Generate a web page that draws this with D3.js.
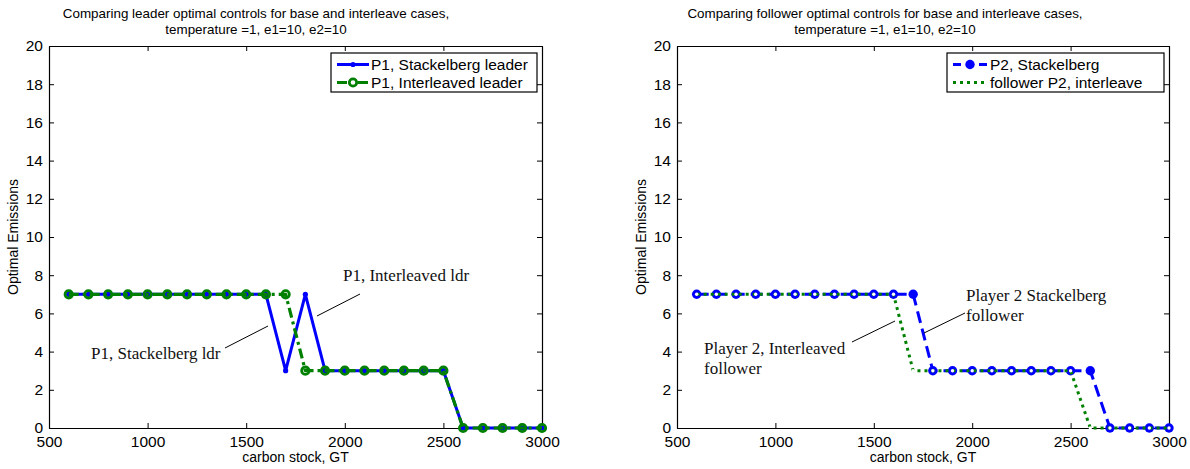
<!DOCTYPE html>
<html>
<head>
<meta charset="utf-8">
<script src="https://cdn.jsdelivr.net/npm/d3@7/dist/d3.min.js"></script>
<style>
  html, body { margin: 0; padding: 0; background: #fff; }
  svg { display: block; }
</style>
</head>
<body>
<svg id="fig" width="1190" height="469"></svg>
<script>
// Carbon stock grid (GT)
const stock = [600, 700, 800, 900, 1000, 1100, 1200, 1300, 1400, 1500, 1600, 1700, 1800,
               1900, 2000, 2100, 2200, 2300, 2400, 2500, 2600, 2700, 2800, 2900, 3000];

// Leader optimal emissions
const leaderStackelberg = [7, 7, 7, 7, 7, 7, 7, 7, 7, 7, 7, 3, 7, 3, 3, 3, 3, 3, 3, 3, 0, 0, 0, 0, 0];
const leaderInterleaved = [7, 7, 7, 7, 7, 7, 7, 7, 7, 7, 7, 7, 3, 3, 3, 3, 3, 3, 3, 3, 0, 0, 0, 0, 0];

// Follower optimal emissions
const followerStackelberg = [7, 7, 7, 7, 7, 7, 7, 7, 7, 7, 7, 7, 3, 3, 3, 3, 3, 3, 3, 3, 3, 0, 0, 0, 0];
const followerInterleaved = [7, 7, 7, 7, 7, 7, 7, 7, 7, 7, 7, 3, 3, 3, 3, 3, 3, 3, 3, 3, 0, 0, 0, 0, 0];

// Axis ticks
const xTicks = [500, 1000, 1500, 2000, 2500, 3000];
const yTicks = [0, 2, 4, 6, 8, 10, 12, 14, 16, 18, 20];

const titlesLeft = ["Comparing leader optimal controls for base and interleave cases,",
                    "temperature =1, e1=10, e2=10"];
const titlesRight = ["Comparing follower optimal controls for base and interleave cases,",
                     "temperature =1, e1=10, e2=10"];

const SANS = "'Liberation Sans', Arial, Helvetica, sans-serif";
const SERIF = "'Liberation Serif', 'Times New Roman', serif";
const BLUE = "#0000ff";
const GREEN = "#008000";

const svg = d3.select("#fig");

function makePanel(opts) {
  const { left, right, top, bottom, titleCx } = opts;
  const x = d3.scaleLinear().domain([500, 3000]).range([left, right]);
  const y = d3.scaleLinear().domain([0, 20]).range([bottom, top]);
  const g = svg.append("g");

  // Title
  const t = g.append("text")
    .attr("x", titleCx).attr("text-anchor", "middle")
    .style("font-family", SANS).style("font-size", "13.4px").attr("fill", "#000");
  opts.titles.forEach((s, i) => t.append("tspan").attr("x", titleCx).attr("y", 18 + i * 15.5).text(s));

  // Axes with inward ticks (bottom/left labelled, top/right mirrored)
  const tickLen = 5;
  const axB = d3.axisBottom(x).tickValues(xTicks).tickSizeInner(-tickLen).tickSizeOuter(0)
    .tickPadding(8).tickFormat(d3.format("d"));
  const axT = d3.axisTop(x).tickValues(xTicks).tickSizeInner(-tickLen).tickSizeOuter(0).tickFormat("");
  const axL = d3.axisLeft(y).tickValues(yTicks).tickSizeInner(-tickLen).tickSizeOuter(0).tickPadding(6);
  const axR = d3.axisRight(y).tickValues(yTicks).tickSizeInner(-tickLen).tickSizeOuter(0).tickFormat("");

  const styleAxis = sel => {
    sel.select(".domain").attr("stroke", "#000").attr("stroke-width", 1.2);
    sel.selectAll(".tick line").attr("stroke", "#000").attr("stroke-width", 1);
    sel.selectAll(".tick text").attr("fill", "#000")
      .style("font-family", SANS).style("font-size", "15.5px");
  };
  g.append("g").attr("transform", `translate(0,${bottom})`).call(axB).call(styleAxis);
  g.append("g").attr("transform", `translate(0,${top})`).call(axT).call(styleAxis);
  g.append("g").attr("transform", `translate(${left},0)`).call(axL).call(styleAxis);
  g.append("g").attr("transform", `translate(${right},0)`).call(axR).call(styleAxis);

  // Axis labels
  g.append("text").attr("x", (left + right) / 2).attr("y", 462).attr("text-anchor", "middle")
    .style("font-family", SANS).style("font-size", "14px").text("carbon stock, GT");
  g.append("text").attr("transform", `translate(${left - 31},${(top + bottom) / 2}) rotate(-90)`)
    .attr("text-anchor", "middle")
    .style("font-family", SANS).style("font-size", "14px").text("Optimal Emissions");

  return { g, x, y };
}

function drawSeries(p, values, style) {
  const pts = stock.map((s, i) => [s, values[i]]);
  const line = d3.line().x(d => p.x(d[0])).y(d => p.y(d[1]));
  p.g.append("path").datum(pts).attr("d", line).attr("fill", "none")
    .attr("stroke", style.color).attr("stroke-width", style.width)
    .attr("stroke-dasharray", style.dash || null)
    .attr("stroke-linecap", style.cap || "butt").attr("stroke-linejoin", "round");
  if (style.marker) {
    p.g.append("g").selectAll("circle").data(pts).join("circle")
      .attr("cx", d => p.x(d[0])).attr("cy", d => p.y(d[1]))
      .attr("r", style.marker.r)
      .attr("fill", style.marker.fill)
      .attr("stroke", style.marker.stroke || "none")
      .attr("stroke-width", style.marker.sw || 0);
  }
}

function legend(p, box, entries) {
  const lg = p.g.append("g");
  lg.append("rect").attr("x", box.x).attr("y", box.y).attr("width", box.w).attr("height", box.h)
    .attr("fill", "#fff").attr("stroke", "#000").attr("stroke-width", 1.2);
  entries.forEach((e, i) => {
    const cy = box.y + 11.5 + i * 18;
    lg.append("line").attr("x1", box.x + box.lx1).attr("x2", box.x + box.lx2)
      .attr("y1", cy).attr("y2", cy).attr("stroke", e.color).attr("stroke-width", 3)
      .attr("stroke-dasharray", e.dash || null).attr("stroke-linecap", e.cap || "butt");
    if (e.marker) {
      lg.append("circle").attr("cx", box.x + (box.lx1 + box.lx2) / 2).attr("cy", cy)
        .attr("r", e.marker.r).attr("fill", e.marker.fill)
        .attr("stroke", e.marker.stroke || "none").attr("stroke-width", e.marker.sw || 0);
    }
    lg.append("text").attr("x", box.x + box.tx).attr("y", cy + 5.5)
      .style("font-family", SANS).style("font-size", "15.5px").text(e.label);
  });
}

function annotate(p, lines, tx, ty, from, to) {
  const t = p.g.append("text").style("font-family", SERIF).style("font-size", "17px").attr("fill", "#111");
  lines.forEach((s, i) => t.append("tspan").attr("x", tx).attr("y", ty + i * 20).text(s));
  p.g.append("line").attr("x1", from[0]).attr("y1", from[1]).attr("x2", to[0]).attr("y2", to[1])
    .attr("stroke", "#000").attr("stroke-width", 1);
}

// ---------- Left panel: leader ----------
const L = makePanel({ left: 49, right: 542, top: 46, bottom: 428, titleCx: 256, titles: titlesLeft });

const blueLeader = { color: BLUE, width: 3, marker: { r: 2.6, fill: BLUE } };
const greenLeader = { color: GREEN, width: 3.2, dash: "10 4 3 4",
                      marker: { r: 3.7, fill: "none", stroke: GREEN, sw: 2.8 } };
drawSeries(L, leaderStackelberg, blueLeader);
drawSeries(L, leaderInterleaved, greenLeader);

legend(L, { x: 331, y: 53, w: 206, h: 39, lx1: 6, lx2: 38, tx: 40 }, [
  { label: "P1, Stackelberg leader", color: BLUE, marker: { r: 2.6, fill: BLUE } },
  { label: "P1, Interleaved leader", color: GREEN, dash: "10 4 3 4",
    marker: { r: 3.7, fill: "#fff", stroke: GREEN, sw: 2.8 } }
]);

annotate(L, ["P1, Interleaved ldr"], 343, 281, [360, 294], [317, 316]);
annotate(L, ["P1, Stackelberg ldr"], 91, 359, [225, 348], [268, 326]);

// ---------- Right panel: follower ----------
const R = makePanel({ left: 677, right: 1169, top: 46, bottom: 428, titleCx: 885, titles: titlesRight });

const blueFollower = { color: BLUE, width: 3, dash: "12 6", marker: { r: 4.7, fill: BLUE } };
const greenFollower = { color: GREEN, width: 3, dash: "3 4", marker: { r: 1.7, fill: "#fff" } };
drawSeries(R, followerStackelberg, blueFollower);
drawSeries(R, followerInterleaved, greenFollower);

legend(R, { x: 947, y: 53, w: 217, h: 39, lx1: 6, lx2: 40, tx: 43 }, [
  { label: "P2, Stackelberg", color: BLUE, dash: "8 5", marker: { r: 4.7, fill: BLUE } },
  { label: "follower P2, interleave", color: GREEN, dash: "3 4" }
]);

annotate(R, ["Player 2 Stackelberg", "follower"], 966, 301, [965, 313], [924, 333]);
annotate(R, ["Player 2, Interleaved", "follower"], 704, 354, [852, 342], [895, 321]);
</script>
</body>
</html>
